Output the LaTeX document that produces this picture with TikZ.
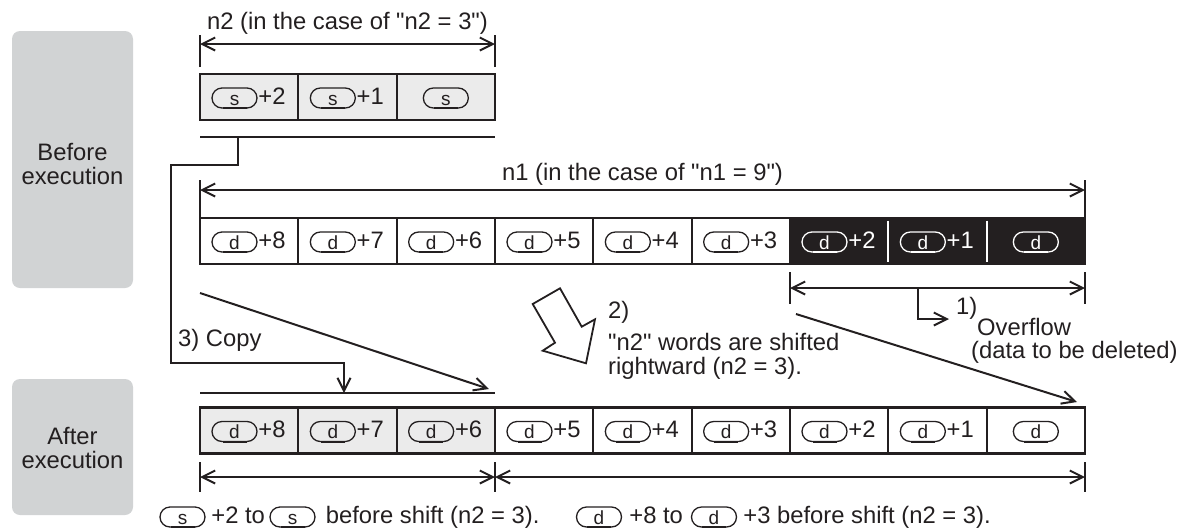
\documentclass[tikz,border=0pt]{standalone}
\usepackage{fontspec}
\setmainfont{Liberation Sans}[Ligatures=TeXOff]
\usetikzlibrary{arrows.meta,shapes.misc,calc}
\definecolor{ink}{HTML}{231F20}
\definecolor{lbl}{HTML}{D1D3D4}
\definecolor{cellg}{HTML}{EBEBEB}
\tikzset{
  cellbox/.style={draw=ink, line width=2.2pt, minimum width=98.33pt, minimum height=46pt, inner sep=0pt, outer sep=0pt},
  pillst/.style={rounded rectangle, draw=#1, text=#1, line width=1.3pt, minimum width=45pt, minimum height=20pt, inner sep=0pt, text height=14pt, text depth=0pt, font=\fontsize{19}{19}\selectfont},
  lab/.style={inner sep=0pt, anchor=base west, text=ink, font=\fontsize{23.8}{24}\selectfont},
  ln/.style={draw=ink, line width=2pt},
  lblbox/.style={fill=lbl, rounded corners=8pt, minimum width=121pt, inner sep=0pt},
  lbltext/.style={align=center, inner sep=0pt, text=ink, font=\fontsize{23.8}{24}\selectfont},
}
\newcommand\mypill[4]{%
  \node[pillst=#4] (#1) at (#2) {#3};
  \draw[#4, line width=2.4pt] ([xshift=-12pt,yshift=0.4pt]#1.south) -- ([xshift=12pt,yshift=0.4pt]#1.south);
}
\newcommand\cellfill[5]{%
  \mypill{#2}{$(#1.west)+(34.5,1)$}{#3}{#5}
  \node[lab, text=#5] (#2t) at ($(#2.east)+(0.5,6)$) {#4};
}
\begin{document}
\begin{tikzpicture}[x=1pt,y=-1pt,>={Straight Barb[length=13pt,width=13pt]}]
\useasboundingbox (0,0) rectangle (1194,531);
% side labels
\node[lblbox, minimum height=257pt] (beforebox) at (72.5,159.5) {};
\node[lbltext] (beforetxt) at (72.5,163.5) {Before\\execution};
\node[lblbox, minimum height=136pt] (afterbox) at (72.5,447) {};
\node[lbltext] (aftertxt) at (72.5,448) {After\\execution};

% source row
\foreach \cc/\lb in {0/+2,1/+1}{
  \node[cellbox, fill=cellg] (s\cc) at ({200+98.333*(\cc+0.5)},97) {};
  \cellfill{s\cc}{ps\cc}{s}{\lb}{ink}
}
\node[cellbox, fill=cellg] (s2) at ({200+98.333*2.5},97) {};
\mypill{ps2}{$(s2.center)+(0,1)$}{s}{ink}

% n2 dimension
\draw[ln] ($(s0.north west)+(0,-7)$) -- ++(0,-32);
\draw[ln] ($(s2.north east)+(0,-7)$) -- ++(0,-32);
\draw[ln,<->] ($(s0.north west)+(0,-30)$) -- ($(s2.north east)+(0,-30)$);
\node[lab, anchor=base] (n2lab) at (347.5,29.5) {n2 (in the case of "n2 = 3")};

% before row
\foreach \cc/\lb in {0/+8,1/+7,2/+6,3/+5,4/+4,5/+3}{
  \node[cellbox, fill=white] (b\cc) at ({200+98.333*(\cc+0.5)},241) {};
  \cellfill{b\cc}{pb\cc}{d}{\lb}{ink}
}
\foreach \cc/\lb in {6/+2,7/+1}{
  \node[cellbox, fill=ink] (b\cc) at ({200+98.333*(\cc+0.5)},241) {};
  \cellfill{b\cc}{pb\cc}{d}{\lb}{white}
}
\node[cellbox, fill=ink] (b8) at ({200+98.333*8.5},241) {};
\mypill{pb8}{$(b8.center)+(0,1)$}{d}{white}
\foreach \cc in {6,7}
  \draw[white, line width=2pt] ([yshift=-2.5pt]b\cc.north east) -- ([yshift=2.5pt]b\cc.south east);

% n1 dimension
\draw[ln] (b0.north west) -- ++(0,-38);
\draw[ln] (b8.north east) -- ++(0,-38);
\draw[ln,<->] ($(b0.north west)+(0,-28)$) -- ($(b8.north east)+(0,-28)$);
\node[lab, anchor=base] (n1lab) at (642.5,180) {n1 (in the case of "n1 = 9")};

% overflow dimension
\draw[ln] ($(b6.south west)+(0,8)$) -- ++(0,32);
\draw[ln] ($(b8.south east)+(0,8)$) -- ++(0,32);
\draw[ln,<->] ($(b6.south west)+(0,24)$) -- ($(b8.south east)+(0,24)$);
\coordinate (ov0) at (918,288);
\coordinate (ov1) at (949,319);
\draw[ln,->] (ov0) |- (ov1);
\node[lab] (ovn) at (956,314) {1)};
\node[lab] (ovt) at (977,335) {Overflow};
\node[lab] (ovd) at (971,358) {(data to be deleted)};

% after row
\foreach \cc/\lb in {0/+8,1/+7,2/+6}{
  \node[cellbox, fill=cellg] (a\cc) at ({200+98.333*(\cc+0.5)},430.5) {};
  \cellfill{a\cc}{pa\cc}{d}{\lb}{ink}
}
\foreach \cc/\lb in {3/+5,4/+4,5/+3,6/+2,7/+1}{
  \node[cellbox, fill=white] (a\cc) at ({200+98.333*(\cc+0.5)},430.5) {};
  \cellfill{a\cc}{pa\cc}{d}{\lb}{ink}
}
\node[cellbox, fill=white] (a8) at ({200+98.333*8.5},430.5) {};
\mypill{pa8}{$(a8.center)+(0,1)$}{d}{ink}

% lines and copy path
\coordinate (sl0) at (200,137);
\coordinate (sl1) at (495,137);
\draw[ln] (sl0) -- (sl1);
\coordinate (al0) at (200,393);
\coordinate (al1) at (495,393);
\draw[ln] (al0) -- (al1);
\coordinate (cp0) at (238,137);
\coordinate (cpA) at (171,165);
\coordinate (cpB) at (344,363);
\coordinate (cp1) at (344,393);
\draw[ln,->] (cp0) |- (cpA) |- (cpB) -- (cp1);
\node[lab] (copyt) at (178,346) {3) Copy};

% diagonals
\coordinate (dg1s) at (200,293);
\coordinate (dg1e) at (489,389);
\draw[ln,->] (dg1s) -- (dg1e);
\coordinate (dg2s) at (796,314);
\coordinate (dg2e) at (1077,402);
\draw[ln,->] (dg2s) -- (dg2e);

% hollow arrow
\draw[ink, line width=1.8pt, fill=white] (532.7,304) -- (560,288.3) -- (581.7,326.7) -- (595,319.3) -- (586,363.3) -- (542.7,350.7) -- (555,342.7) -- cycle;
\node[lab] (sh1) at (608,318) {2)};
\node[lab] (sh2) at (608,350) {"n2" words are shifted};
\node[lab] (sh3) at (608,374) {rightward (n2 = 3).};

% after dimensions
\draw[ln] ($(a0.south west)+(0,8.5)$) -- ++(0,30);
\draw[ln] ($(a2.south east)+(0,8.5)$) -- ++(0,30);
\draw[ln] ($(a8.south east)+(0,8.5)$) -- ++(0,30);
\draw[ln,<->] ($(a0.south west)+(0,23.5)$) -- ($(a2.south east)+(0,23.5)$);
\draw[ln,<->] ($(a3.south west)+(0,23.5)$) -- ($(a8.south east)+(0,23.5)$);

% bottom captions
\mypill{bs1}{182.5,517}{s}{ink}
\node[lab] (bt1) at ($(bs1.east)+(5.5,6)$) {+2 to};
\mypill{bs2}{292.5,517}{s}{ink}
\node[lab] (bt2) at ($(bs2.east)+(10,6)$) {before shift (n2 = 3).};
\mypill{bd1}{599,517}{d}{ink}
\node[lab] (bt3) at ($(bd1.east)+(7,6)$) {+8 to};
\mypill{bd2}{714,517}{d}{ink}
\node[lab] (bt4) at ($(bd2.east)+(6,6)$) {+3 before shift (n2 = 3).};
\end{tikzpicture}
\end{document}
